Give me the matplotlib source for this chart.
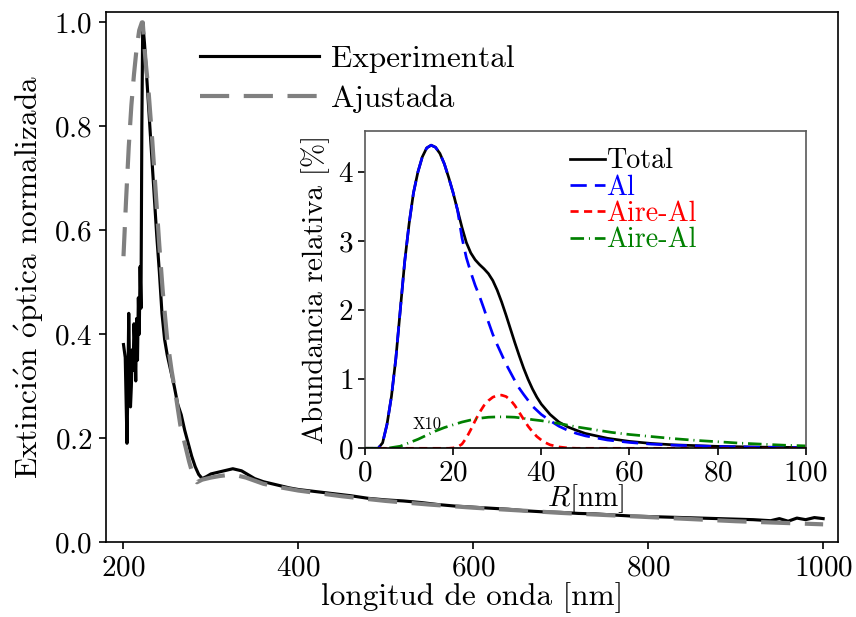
import matplotlib
matplotlib.use("Agg")
import matplotlib.pyplot as plt

plt.rcParams['font.family'] = 'serif'
plt.rcParams['font.serif'] = ['cmr10']
plt.rcParams['mathtext.fontset'] = 'cm'
plt.rcParams['axes.formatter.use_mathtext'] = True

# ---------------- main spectrum ----------------
exp_nm = [200, 202, 204, 205, 206, 207, 208, 209, 210, 211, 212, 213, 214, 215, 216, 217, 218, 219, 220,
          221, 222, 224, 226, 229, 232, 235, 238, 241, 244, 247, 250, 254, 258, 262, 266, 270, 274, 278,
          282, 286, 290, 295, 300, 305, 310, 315, 320, 325, 330, 335, 340, 345, 350, 360, 370, 380, 390,
          400, 420, 440, 460, 480, 500, 520, 540, 560, 580, 600, 620, 640, 660, 680, 700, 720, 740, 760,
          780, 800, 820, 840, 860, 880, 900, 920, 940, 950, 960, 970, 980, 990, 1000]
exp_val = [0.38, 0.355, 0.19, 0.30, 0.44, 0.33, 0.26, 0.30, 0.37, 0.33, 0.42, 0.38, 0.31, 0.43, 0.35, 0.47,
           0.40, 0.53, 0.45, 0.80, 1.0, 0.96, 0.91, 0.83, 0.75, 0.67, 0.59, 0.52, 0.44, 0.39, 0.36, 0.33,
           0.30, 0.265, 0.245, 0.215, 0.19, 0.165, 0.145, 0.13, 0.122, 0.126, 0.131, 0.133, 0.135, 0.137,
           0.139, 0.141, 0.139, 0.137, 0.132, 0.127, 0.122, 0.116, 0.112, 0.108, 0.104, 0.101, 0.097,
           0.093, 0.089, 0.084, 0.081, 0.079, 0.076, 0.072, 0.069, 0.067, 0.065, 0.063, 0.060, 0.058,
           0.057, 0.055, 0.054, 0.052, 0.050, 0.049, 0.048, 0.047, 0.046, 0.045, 0.044, 0.043, 0.041,
           0.045, 0.040, 0.046, 0.043, 0.047, 0.045]

fit_nm = [200, 203, 206, 209, 212, 215, 218, 221, 222, 225, 229, 233, 237, 241, 245, 250, 255, 260, 265,
          270, 275, 280, 284, 290, 300, 310, 320, 330, 340, 350, 360, 380, 400, 450, 500, 550, 600, 650,
          700, 750, 800, 850, 900, 950, 1000]
fit_val = [0.55, 0.66, 0.76, 0.84, 0.90, 0.95, 0.985, 1.0, 1.0, 0.93, 0.86, 0.77, 0.67, 0.57, 0.48, 0.39,
           0.33, 0.28, 0.225, 0.19, 0.155, 0.125, 0.115, 0.12, 0.124, 0.127, 0.129, 0.128, 0.124, 0.118,
           0.112, 0.105, 0.099, 0.088, 0.079, 0.072, 0.066, 0.061, 0.056, 0.052, 0.048, 0.044, 0.040,
           0.037, 0.034]

# ---------------- inset: size distribution ----------------
tot_R = [0, 2, 3, 4, 5, 6, 7, 8, 9, 10, 11, 12, 13, 14, 15, 16, 17, 18, 19, 20, 21, 22, 23, 24, 25, 26,
         27, 28, 29, 30, 31, 32, 33, 34, 35, 36, 37, 38, 39, 40, 42, 44, 46, 48, 50, 55, 60, 65, 70, 80,
         90, 100]
tot_val = [0, 0, 0, 0.08, 0.35, 0.75, 1.3, 2.0, 2.7, 3.25, 3.7, 4.0, 4.22, 4.35, 4.39, 4.36, 4.27, 4.12,
           3.92, 3.70, 3.45, 3.20, 2.98, 2.83, 2.73, 2.66, 2.60, 2.53, 2.43, 2.29, 2.12, 1.93, 1.73, 1.53,
           1.34, 1.16, 1.0, 0.86, 0.74, 0.64, 0.49, 0.38, 0.31, 0.26, 0.215, 0.145, 0.10, 0.07, 0.05,
           0.028, 0.017, 0.011]

al_R = [0, 2, 3, 4, 5, 6, 7, 8, 9, 10, 11, 12, 13, 14, 15, 16, 17, 18, 19, 20, 21, 22, 23, 24, 25, 26,
        27, 28, 29, 30, 31, 32, 33, 34, 35, 36, 38, 40, 42, 44, 46, 48, 50, 55, 60, 65, 70, 80, 90, 100]
al_val = [0, 0, 0, 0.08, 0.35, 0.75, 1.3, 2.0, 2.7, 3.25, 3.7, 4.0, 4.22, 4.35, 4.39, 4.36, 4.27, 4.12,
          3.92, 3.70, 3.45, 3.05, 2.76, 2.55, 2.36, 2.2, 2.02, 1.83, 1.65, 1.50, 1.36, 1.22, 1.10, 0.98,
          0.87, 0.78, 0.61, 0.49, 0.40, 0.32, 0.26, 0.215, 0.18, 0.12, 0.085, 0.06, 0.045, 0.025, 0.015,
          0.01]

red_R = [0, 19, 20, 21, 22, 23, 24, 25, 26, 27, 28, 29, 30, 31, 32, 33, 34, 35, 36, 37, 38, 39, 40, 41,
         42, 44, 46, 48, 100]
red_val = [0, 0, 0.005, 0.02, 0.06, 0.15, 0.27, 0.40, 0.52, 0.62, 0.69, 0.74, 0.765, 0.77, 0.75, 0.70,
           0.62, 0.52, 0.42, 0.32, 0.24, 0.17, 0.12, 0.08, 0.05, 0.02, 0.005, 0, 0]

grn_R = [0, 5, 8, 10, 12, 14, 16, 18, 20, 22, 24, 26, 28, 30, 32, 34, 36, 38, 40, 44, 48, 52, 56, 60, 65,
         70, 75, 80, 85, 90, 95, 100]
grn_val = [0, 0, 0.03, 0.08, 0.13, 0.19, 0.25, 0.30, 0.34, 0.38, 0.41, 0.435, 0.45, 0.455, 0.455, 0.45,
           0.435, 0.415, 0.40, 0.36, 0.31, 0.27, 0.23, 0.20, 0.17, 0.14, 0.115, 0.095, 0.075, 0.06,
           0.045, 0.035]

fig = plt.figure(figsize=(857 / 150, 617 / 150), dpi=150)
ax = fig.add_axes([106 / 857, 1 - 542 / 617, (838 - 106) / 857, (542 - 12) / 617])

ax.plot(exp_nm, exp_val, color='black', lw=1.5, label='Experimental')
ax.plot(fit_nm, fit_val, color='gray', lw=2.0, dashes=(7, 3.5), label='Ajustada')
ax.set_xlim(180, 1017)
ax.set_ylim(0, 1.02)
ax.set_xticks([200, 400, 600, 800, 1000])
ax.set_yticks([0.0, 0.2, 0.4, 0.6, 0.8, 1.0])
ax.tick_params(labelsize=14, pad=3)
ax.set_xlabel('longitud de onda [nm]', fontsize=15, labelpad=0)
ax.set_ylabel(r'Extinci$\acute{\mathrm{o}}$n $\acute{\mathrm{o}}$ptica normalizada', fontsize=15)
ax.legend(loc='upper left', bbox_to_anchor=(200 / 857, 1 - 45 / 617), bbox_transform=fig.transFigure,
          frameon=False, fontsize=15, handlelength=3.8, handletextpad=0.4, labelspacing=0.38,
          borderpad=0, borderaxespad=0)

# inset
ins = fig.add_axes([365 / 857, 1 - 448.3 / 617, (805.7 - 365) / 857, (448.3 - 130.7) / 617])
ins.plot(tot_R, tot_val, color='black', lw=1.3, label='Total')
ins.plot(al_R, al_val, color='blue', lw=1.3, dashes=(6, 3), label='Al')
ins.plot(red_R, red_val, color='red', lw=1.3, dashes=(3, 2), label='Aire-Al')
ins.plot(grn_R, grn_val, color='green', lw=1.3, dashes=(5, 1.8, 0.4, 1.8), label='Aire-Al')
ins.text(14, 0.35, 'X10', fontsize=8, ha='center', va='center')
ins.set_xlim(0, 100)
ins.set_ylim(0, 4.6)
ins.set_xticks([0, 20, 40, 60, 80, 100])
ins.set_yticks([0, 1, 2, 3, 4])
ins.tick_params(labelsize=14, pad=2)
for s in ins.spines.values():
    s.set_color('0.35')
ins.spines['bottom'].set_color('black')
ins.set_xlabel(r'$R$[nm]', fontsize=14, labelpad=-2)
ins.set_ylabel('Abundancia relativa [%]', fontsize=14)
ins.legend(loc='upper left', bbox_to_anchor=(570 / 857, 1 - 148 / 617), bbox_transform=fig.transFigure,
           frameon=False, fontsize=13.5, handlelength=1.25, handletextpad=0.05, labelspacing=0.0,
           borderpad=0, borderaxespad=0, labelcolor='linecolor')

fig.savefig('out.png', dpi=150)
